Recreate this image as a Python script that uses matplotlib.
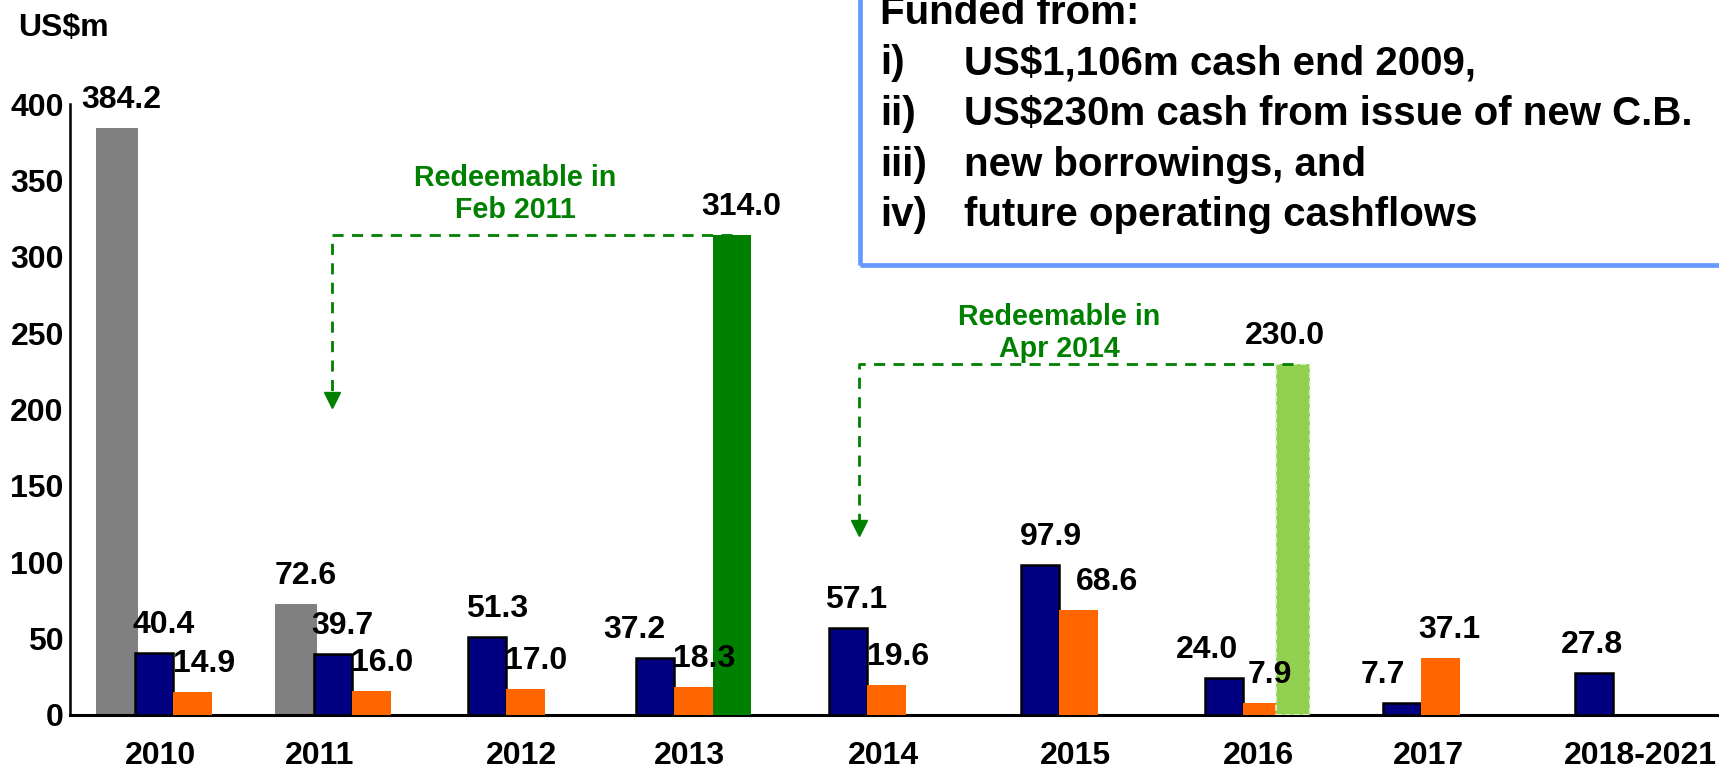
import matplotlib
matplotlib.use("Agg")
import matplotlib.pyplot as plt
from matplotlib.patches import Rectangle

plt.rcParams['font.family'] = ['Liberation Sans', 'DejaVu Sans']
plt.rcParams['font.weight'] = 'bold'

# data (US$m)
categories = ['2010', '2011', '2012', '2013', '2014', '2015', '2016', '2017', '2018-2021']
navy_vals = [40.4, 39.7, 51.3, 37.2, 57.1, 97.9, 24.0, 7.7, 27.8]
orange_vals = [14.9, 16.0, 17.0, 18.3, 19.6, 68.6, 7.9, 37.1, None]
grey_cats = ['2010', '2011']
grey_vals = [384.2, 72.6]
green_cat, green_val = '2013', 314.0
lgreen_cat, lgreen_val = '2016', 230.0

box_lines = [('', 'Funded from:'),
             ('i)', 'US$1,106m cash end 2009,'),
             ('ii)', 'US$230m cash from issue of new C.B.'),
             ('iii)', 'new borrowings, and'),
             ('iv)', 'future operating cashflows')]

# layout (x axis runs in pixel-like units)
W, H = 1719, 770
anchor = [173, 352, 506, 674, 867, 1059, 1243, 1421, 1613]   # navy/orange boundary
tick_x = [160, 320, 521, 689, 883, 1075, 1258, 1428, 1640]
bw = 38.5
px_per_unit = 1.5275
zero_px = 715

NAVY, ORANGE, GREY = '#000080', '#FF6600', '#808080'
GREEN, LGREEN, BOXBLUE = '#008000', '#92D050', '#6699FF'
FS = 23

fig = plt.figure(figsize=(W / 100, H / 100), dpi=100)
ax = fig.add_axes([70 / W, (H - zero_px) / H, (W - 70) / W, zero_px / H])
ax.set_xlim(70, W)
ax.set_ylim(0, zero_px / px_per_unit)

idx = {c: i for i, c in enumerate(categories)}


def label(x, y, txt, dx=10):
    ax.annotate(txt, (x, y), xytext=(dx, 28), textcoords='offset pixels',
                ha='center', va='center', fontsize=FS, fontweight='bold',
                annotation_clip=False, zorder=10)


# navy
nav_dx = [10, 10, 10, -20, 8, 11, -17, -19, -2]
for i, v in enumerate(navy_vals):
    ax.bar(anchor[i] - bw, v, width=bw, align='edge', color=NAVY,
           edgecolor='black', linewidth=1.8, zorder=3)
    label(anchor[i] - bw / 2, v, f'{v:.1f}', nav_dx[i])

# orange
or_dx = [12, 11, 11, 11, 12, 29, 8, 9, 0]
for i, v in enumerate(orange_vals):
    if v is None:
        continue
    ax.bar(anchor[i], v, width=bw, align='edge', color=ORANGE, linewidth=0, zorder=3)
    label(anchor[i] + bw / 2, v, f'{v:.1f}', or_dx[i])

# grey
gr_dx = [6, 11]
for j, (c, v) in enumerate(zip(grey_cats, grey_vals)):
    i = idx[c]
    ax.bar(anchor[i] - 2 * bw, v, width=bw + 3, align='edge', color=GREY,
           linewidth=0, zorder=2)
    label(anchor[i] - 1.5 * bw, v, f'{v:.1f}', gr_dx[j])

# green bars
i = idx[green_cat]
gx = anchor[i] + bw
ax.bar(gx, green_val, width=bw, align='edge', color=GREEN, linewidth=0, zorder=3)
label(gx + bw / 2, green_val, f'{green_val:.1f}', 10)

i = idx[lgreen_cat]
lgx = anchor[i] + bw - 6
ax.bar(lgx, lgreen_val, width=34, align='edge', color=LGREEN,
       edgecolor='#E8F5DC', linestyle='--', linewidth=1.2, zorder=4)
label(lgx + 17, lgreen_val, f'{lgreen_val:.1f}', -8)


# redeemable annotations
def redeem(x0, bar_x, top, tip, txt, tx, ty):
    head = 15 / px_per_unit
    ax.plot([bar_x, x0, x0], [top, top, tip + head], color=GREEN, lw=2,
            ls=(0, (4, 3)), zorder=5, clip_on=False)
    ax.plot([x0], [tip + head / 2], marker='v', ms=11, color=GREEN, zorder=5)
    ax.text(tx, ty, txt, ha='center', va='center', color=GREEN, fontsize=20.6,
            fontweight='bold', linespacing=1.15, zorder=10)


redeem(332, gx + bw / 2, green_val, 201.6, 'Redeemable in\nFeb 2011', 515, 341)
redeem(859, lgx + 17, lgreen_val, 117.8, 'Redeemable in\nApr 2014', 1059, 250)

# axes styling
for s in ['top', 'right']:
    ax.spines[s].set_visible(False)
ax.spines['left'].set_bounds(0, 400)
ax.spines['left'].set_linewidth(1.8)
ax.spines['bottom'].set_linewidth(2.2)
ax.set_yticks(range(0, 401, 50))
ax.set_xticks(tick_x)
ax.set_xticklabels(categories)
ax.tick_params(axis='y', length=0, pad=4.5, labelsize=FS)
ax.tick_params(axis='x', length=0, pad=19, labelsize=FS)
for t in ax.get_xticklabels() + ax.get_yticklabels():
    t.set_fontweight('bold')

fig.text(18 / W, 1 - 28 / H, 'US$m', ha='left', va='center', fontsize=FS,
         fontweight='bold')

# funding box
fig.patches.append(Rectangle((860 / W, 1 - 265 / H), 1, 1, transform=fig.transFigure,
                             fill=False, edgecolor=BOXBLUE, linewidth=3.4,
                             clip_on=False))
for k, (num, txt) in enumerate(box_lines):
    y = 1 - (13 + 50.5 * k) / H
    if num:
        fig.text(880 / W, y, num, ha='left', va='center', fontsize=29, fontweight='bold')
        fig.text(964 / W, y, txt, ha='left', va='center', fontsize=29, fontweight='bold')
    else:
        fig.text(880 / W, y, txt, ha='left', va='center', fontsize=29, fontweight='bold')

fig.savefig('out.png', dpi=100)
